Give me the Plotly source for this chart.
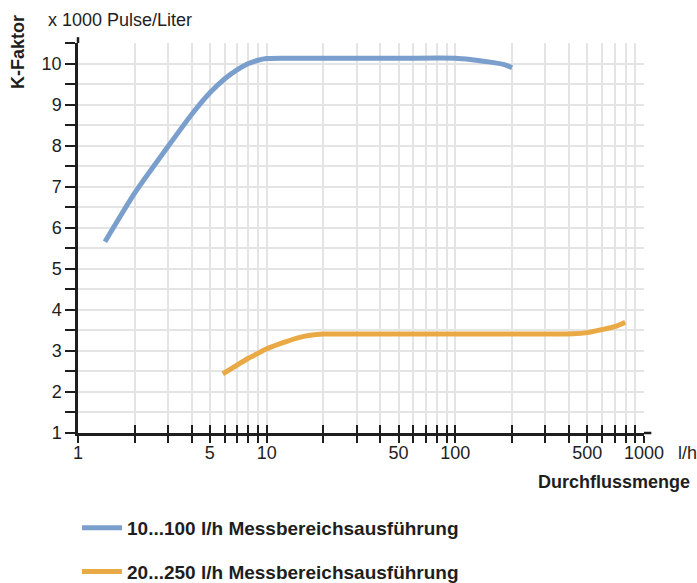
import plotly.graph_objects as go

# --- data ---
blue_name = "10...100 l/h Messbereichsausführung"
blue_x = [1.39, 2, 3, 4, 5, 6, 7, 8, 9, 10, 12, 20, 50, 100, 120, 150, 180, 200]
blue_y = [5.66, 6.85, 7.98, 8.76, 9.29, 9.63, 9.85, 10.0, 10.08, 10.12, 10.13, 10.13,
          10.13, 10.13, 10.1, 10.04, 9.98, 9.9]

orange_name = "20...250 l/h Messbereichsausführung"
orange_x = [5.85, 6, 7, 8, 9, 10, 12, 15, 17, 20, 50, 100, 300, 420, 500, 600, 700, 795]
orange_y = [2.44, 2.47, 2.66, 2.82, 2.94, 3.05, 3.19, 3.33, 3.38, 3.41, 3.41, 3.41,
            3.41, 3.415, 3.445, 3.52, 3.59, 3.70]

x_tickvals = [1, 2, 3, 4, 5, 6, 7, 8, 9, 10, 20, 30, 40, 50, 60, 70, 80, 90,
              100, 200, 300, 400, 500, 600, 700, 800, 900, 1000]
x_labeled = [1, 5, 10, 50, 100, 500, 1000]
y_tickvals = [1, 1.5, 2, 2.5, 3, 3.5, 4, 4.5, 5, 5.5, 6, 6.5, 7, 7.5, 8, 8.5, 9,
              9.5, 10, 10.5]

x_ticktext = [str(v) if v in x_labeled else "" for v in x_tickvals]
y_ticktext = [str(int(v)) if float(v).is_integer() else "" for v in y_tickvals]

BLUE = "#7B9FCD"
ORANGE = "#E9A944"
GRID = "#E4E4E4"
AXIS = "#1E1E1E"
FONT = "Liberation Sans, Arial, Helvetica, sans-serif"

W, H = 697, 583

fig = go.Figure()
fig.add_trace(go.Scatter(x=blue_x, y=blue_y, mode="lines", name=blue_name,
                         legendgroup="a",
                         line=dict(color=BLUE, width=5, shape="spline", smoothing=0.6)))
fig.add_trace(go.Scatter(x=orange_x, y=orange_y, mode="lines", name=orange_name,
                         legendgroup="b",
                         line=dict(color=ORANGE, width=5, shape="spline", smoothing=0.6)))
# invisible trace to carry the overlay axis (inside tick marks)
fig.add_trace(go.Scatter(x=[1, 1000], y=[1, 1], mode="lines", xaxis="x2",
                         line=dict(width=0), showlegend=False, hoverinfo="skip"))

fig.update_layout(
    width=W, height=H,
    margin=dict(l=78, r=53, t=43, b=150, autoexpand=False),
    paper_bgcolor="white", plot_bgcolor="white",
    font=dict(family=FONT, size=18, color="#1E1E1E"),
    xaxis=dict(type="log", range=[0, 3], tickvals=x_tickvals, ticktext=x_ticktext,
               showgrid=True, gridcolor=GRID, gridwidth=1.5,
               showline=True, linecolor=AXIS, linewidth=2.5,
               ticks="outside", ticklen=7, tickwidth=1.5, tickcolor=AXIS,
               ticklabelstandoff=-5,
               zeroline=False, tickfont=dict(size=18), automargin=False),
    xaxis2=dict(type="log", range=[0, 3], tickvals=x_tickvals, overlaying="x",
                anchor="y", side="bottom", showticklabels=False, showgrid=False,
                ticks="inside", ticklen=8, tickwidth=1.5, tickcolor=AXIS,
                showline=False, zeroline=False, automargin=False),
    yaxis=dict(range=[1, 10.5], tickvals=y_tickvals, ticktext=y_ticktext,
               showgrid=True, gridcolor=GRID, gridwidth=1.5,
               showline=True, linecolor=AXIS, linewidth=2.5,
               ticks="outside", ticklen=10, tickwidth=1.5, tickcolor=AXIS,
               zeroline=False, tickfont=dict(size=18), automargin=False),
    legend=dict(xref="container", yref="container", x=0.1105, y=0.127,
                xanchor="left", yanchor="top",
                font=dict(size=19, weight="bold", color="#1E1E1E"),
                tracegroupgap=16, itemwidth=40, bgcolor="rgba(0,0,0,0)"),
    showlegend=True,
)

# short axis-line overhangs past the plotting area, as in the reference
fig.add_shape(type="line", xref="paper", yref="paper", x0=1.0, x1=1.013, y0=0, y1=0,
              line=dict(color=AXIS, width=2.5), layer="above")
fig.add_shape(type="line", xref="paper", yref="paper", x0=0, x1=0, y0=1.0, y1=1.015,
              line=dict(color=AXIS, width=2.5), layer="above")

fig.add_annotation(text="<b>K-Faktor</b>", xref="paper", yref="paper",
                   x=-0.106, y=1.077, xanchor="center", yanchor="top",
                   textangle=-90, showarrow=False, font=dict(size=18))
fig.add_annotation(text="x 1000 Pulse/Liter", xref="paper", yref="paper",
                   x=-0.0565, y=1.059, xanchor="left", yanchor="middle",
                   showarrow=False, font=dict(size=18))
fig.add_annotation(text="l/h", xref="paper", yref="paper",
                   x=1.0565, y=-0.051, xanchor="left", yanchor="middle",
                   showarrow=False, font=dict(size=18))
fig.add_annotation(text="<b>Durchflussmenge</b>", xref="paper", yref="paper",
                   x=1.0848, y=-0.126, xanchor="right", yanchor="middle",
                   showarrow=False, font=dict(size=18))

# remove the browser's default 8px body margin so the figure fills the window exactly
fig.write_html("out.html",
               config={"displayModeBar": False},
               post_script="document.body.style.margin='0';"
                           "document.body.style.overflow='hidden';")
